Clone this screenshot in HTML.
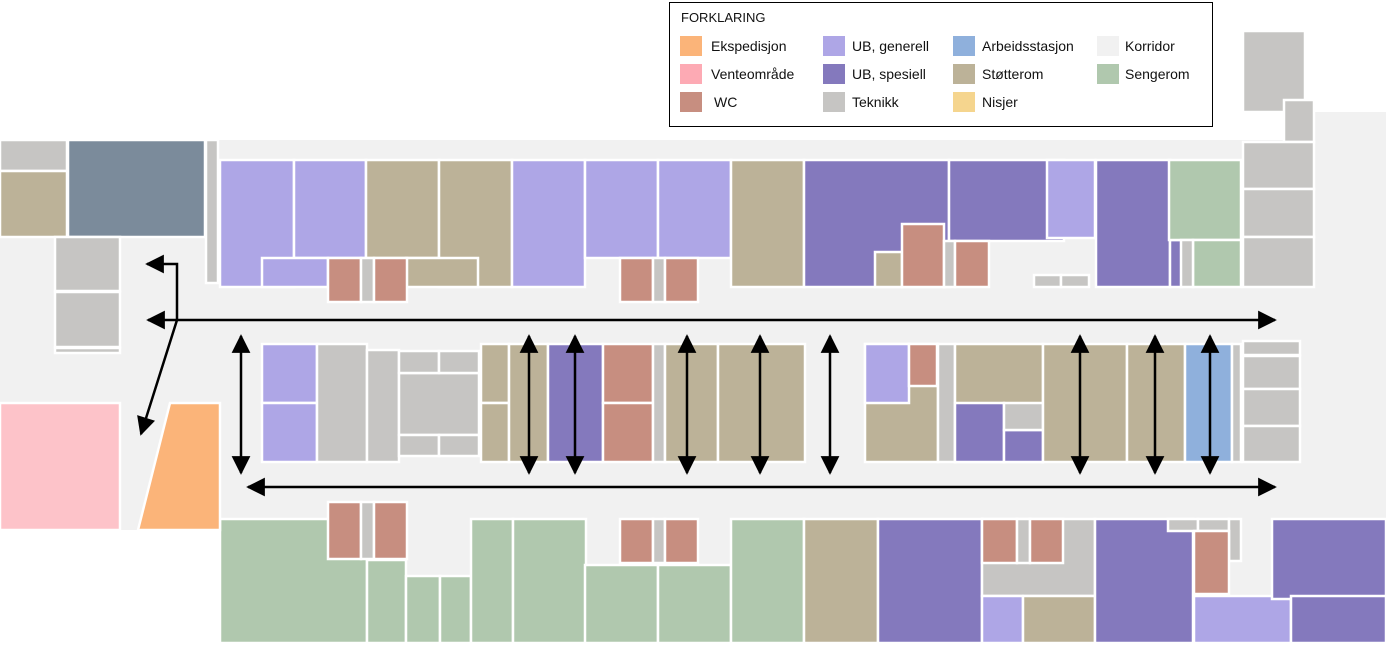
<!DOCTYPE html>
<html><head><meta charset="utf-8"><style>
html,body{margin:0;padding:0;background:#fff;width:1386px;height:645px;overflow:hidden}
svg{display:block;font-family:"Liberation Sans",sans-serif}
</style></head><body>
<svg width="1386" height="645" viewBox="0 0 1386 645">
<defs>
<marker id="ah" viewBox="0 0 10 10" refX="9" refY="5" markerWidth="8" markerHeight="7.5" orient="auto-start-reverse" markerUnits="strokeWidth"><path d="M0,0 L10,5 L0,10 z" fill="#000"/></marker>
</defs>
<g fill="#f1f1f1">
<rect x="0" y="140" width="1386" height="380"/>
<rect x="1313" y="112" width="73" height="410"/>
<rect x="0" y="400" width="222" height="130"/>
<rect x="220" y="515" width="1166" height="85"/>
</g>
<g id="rooms" stroke="#fff" stroke-width="2.5"></g>
<polygon points="138,530 170,403 220,403 220,530" fill="#fbb479" stroke="#fff" stroke-width="2.5"/>
<g stroke="#000" stroke-width="2.5" fill="none">
<line x1="148" y1="320" x2="1275" y2="320" marker-start="url(#ah)" marker-end="url(#ah)"/>
<line x1="248" y1="487" x2="1275" y2="487" marker-start="url(#ah)" marker-end="url(#ah)"/>
<polyline points="147,264 177,264 177,320 141,434" marker-start="url(#ah)" marker-end="url(#ah)"/>
<g id="varrows"></g>
</g>
<g>
<rect x="669.5" y="2.5" width="543" height="124" fill="#fff" stroke="#000" stroke-width="1"/>
<text x="681" y="22" font-size="13" fill="#111">FORKLARING</text>
<g id="legend-entries" font-size="14" fill="#111"></g>
</g>
</svg>
<script>
const C={ug:'#aea6e6',us:'#8479bd',st:'#bcb298',wc:'#c78e80',tk:'#c6c5c3',sg:'#b0c8ae',ar:'#8fb0dc',pk:'#fdc3c9',sl:'#7b8b9b'};
const rooms=[
['tk',0,140,67,31],['st',0,171,67,66],['sl',68,140,137,97],['tk',206,140,12,143],
['tk',55,237,65,54],['tk',55,292,65,55],['tk',55,348,65,5],['pk',0,403,120,127],
['tk',1243,31,62,81],['tk',1284,100,30,42],['tk',1243,142,71,47],['tk',1243,189,71,48],['tk',1243,237,71,50],
['ug',220,160,74,127],['ug',294,160,72,98],['st',366,160,73,98],['st',439,160,73,127],['ug',262,258,66,29],['st',406,258,72,29],
['ug',512,160,73,127],['ug',585,160,73,98],['ug',658,160,73,98],
['wc',328,258,33,44],['tk',361,258,13,44],['wc',374,258,33,44],
['wc',620,258,33,44],['tk',653,258,12,44],['wc',665,258,33,44],
['st',731,160,73,127],['us',804,160,145,127],['st',875,252,27,35],['wc',902,224,42,63],
['us',949,160,115,81],['ug',1047,160,48,78],['tk',944,241,11,46],['wc',955,241,34,46],
['tk',1034,275,27,12],['tk',1061,275,28,12],
['us',1096,160,74,127],['us',1170,240,12,47],['sg',1169,160,72,80],['sg',1193,240,48,47],['tk',1181,240,12,47],
['ug',262,344,55,59],['ug',262,403,55,59],['tk',317,344,50,118],['tk',367,350,32,112],['tk',399,373,80,62],
['tk',399,351,40,22],['tk',439,351,40,22],['tk',399,435,40,21],['tk',439,435,40,21],
['st',481,344,28,59],['st',481,403,28,59],['st',509,344,39,118],['us',548,344,55,118],
['wc',603,344,50,59],['wc',603,403,50,59],['tk',653,344,12,118],['st',665,344,53,118],['st',718,344,87,118],
['st',865,344,73,118],['ug',865,344,44,59],['wc',909,344,28,42],['tk',938,344,17,118],
['st',955,344,88,118],['us',955,403,49,59],['us',1004,430,39,32],['tk',1004,403,39,27],
['st',1043,344,84,118],['st',1127,344,58,118],['ar',1185,344,47,118],['tk',1232,344,9,118],
['tk',1243,341,57,14],['tk',1243,356,57,33],['tk',1243,389,57,37],['tk',1243,426,57,36],
['sg',220,519,147,124],['sg',367,560,39,83],['sg',406,576,34,67],['sg',440,576,31,67],['sg',471,519,42,124],
['wc',328,502,33,57],['tk',361,502,13,57],['wc',374,502,33,57],
['sg',513,519,73,124],['wc',620,519,33,44],['tk',653,519,12,44],['wc',665,519,33,44],
['sg',585,565,73,78],['sg',658,565,73,78],['sg',731,519,73,124],['st',804,519,74,124],['us',878,519,104,124],
['tk',982,519,113,77],['wc',982,519,35,44],['tk',1017,519,13,44],['wc',1030,519,33,44],
['ug',982,596,41,47],['st',1023,596,72,47],
['us',1095,519,98,124],['tk',1168,519,30,12],['tk',1198,519,31,12],['tk',1229,519,12,42],['wc',1194,531,35,63],
['ug',1194,596,97,47],['us',1272,519,114,80],['us',1291,596,95,47]
];
const g=document.getElementById('rooms');
const NS='http://www.w3.org/2000/svg';
rooms.forEach(r=>{const e=document.createElementNS(NS,'rect');
e.setAttribute('x',r[1]);e.setAttribute('y',r[2]);e.setAttribute('width',r[3]);e.setAttribute('height',r[4]);e.setAttribute('fill',C[r[0]]);


g.appendChild(e);});
const vx=[241,529,575,687,760,830,1080,1155,1210];
const va=document.getElementById('varrows');
vx.forEach(x=>{const l=document.createElementNS(NS,'line');
l.setAttribute('x1',x);l.setAttribute('x2',x);l.setAttribute('y1',336);l.setAttribute('y2',473);
l.setAttribute('marker-start','url(#ah)');l.setAttribute('marker-end','url(#ah)');


va.appendChild(l);});
const legNames=['Ekspedisjon','Venteområde','WC','UB, generell','UB, spesiell','Teknikk','Arbeidsstasjon','Støtterom','Nisjer','Korridor','Sengerom'];
const legCols=['#fbb479','#fdaab4','#c78e80','#aea6e6','#8479bd','#c6c5c3','#8fb0dc','#bcb298','#f5d58e','#f1f1f1','#b0c8ae'];
const sx=[680,823,953,1097],tx=[711,852,982,1125],ry=[46,74,102];
const le=document.getElementById('legend-entries');
legNames.forEach((n,i)=>{const c=Math.floor(i/3),r=i%3;
const s=document.createElementNS(NS,'rect');
s.setAttribute('x',sx[c]);s.setAttribute('y',ry[r]-10);s.setAttribute('width',22);s.setAttribute('height',20);s.setAttribute('fill',legCols[i]);


le.appendChild(s);
const t=document.createElementNS(NS,'text');
t.setAttribute('x',tx[c]+(i==2?3:0));t.setAttribute('y',ry[r]+5);t.textContent=n;


le.appendChild(t);});
</script>
</body></html>
